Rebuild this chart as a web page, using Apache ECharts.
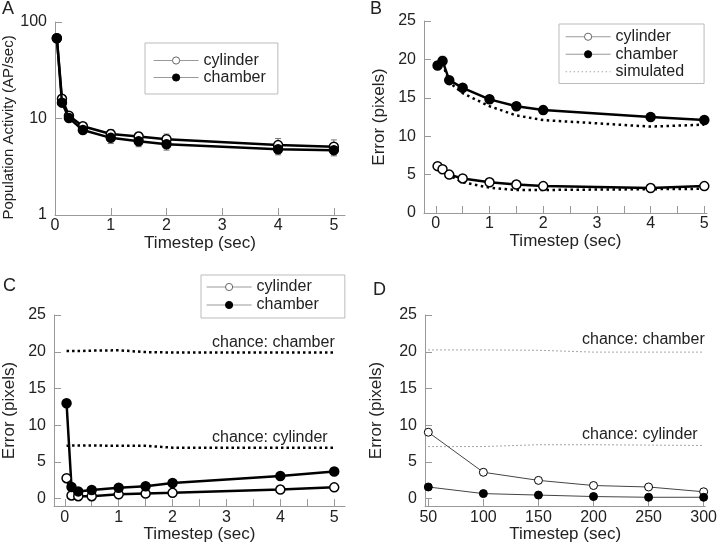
<!DOCTYPE html>
<html><head><meta charset="utf-8">
<script src="https://cdn.jsdelivr.net/npm/echarts@6/dist/echarts.min.js"></script>
<style>html,body{margin:0;padding:0;background:#fff}#c{width:720px;height:544px}</style>
</head><body><div id="c"></div>
<script>
// ---- data ----
const timestepsABC = [0.033, 0.125, 0.25, 0.5, 1, 1.5, 2, 4, 5];
const aCylinder = [68, 16, 10.7, 8.3, 6.9, 6.5, 6.1, 5.3, 5.1];
const aChamber = [68, 14.6, 10.1, 7.6, 6.3, 5.8, 5.4, 4.8, 4.7];
const aCylinderErr = [0, 0, 0, 0, 0.8, 0.7, 0.8, 0.9, 0.9];
const aChamberErr = [0, 0, 0, 0, 0.8, 0.7, 0.7, 0.6, 0.6];

const bCylinder = [6.1, 5.7, 5.0, 4.5, 4.0, 3.7, 3.5, 3.25, 3.5];
const bChamber = [19.2, 19.8, 17.3, 16.3, 14.8, 13.9, 13.4, 12.5, 12.1];
const bChamberErr = [0.5, 0.6, 0.4, 0.4, 0.5, 0.5, 0.5, 0.3, 0.3];
const bSimChamber = [19.2, 19.5, 17.0, 15.6, 13.9, 12.7, 12.1, 11.25, 11.5];
const bSimCylinder = [6.0, 5.6, 4.9, 4.0, 3.3, 3.0, 3.0, 3.1, 3.15];

const cCylinder = [2.8, 0.45, 0.35, 0.35, 0.6, 0.7, 0.8, 1.25, 1.55];
const cChamber = [13.0, 1.6, 1.0, 1.2, 1.5, 1.7, 2.15, 3.1, 3.7];
const cChanceChamber = [20.1, 20.1, 20.1, 20.15, 20.2, 19.95, 19.9, 19.9, 19.9];
const cChanceCylinder = [7.2, 7.25, 7.25, 7.25, 7.2, 7.2, 6.95, 6.95, 6.95];

const timestepsD = [50, 100, 150, 200, 250, 300];
const dCylinder = [9.05, 3.6, 2.5, 1.8, 1.6, 0.95];
const dChamber = [1.6, 0.7, 0.5, 0.3, 0.2, 0.2];
const dChanceChamber = [20.25, 20.25, 20.2, 19.95, 19.95, 19.95];
const dChanceCylinder = [7.1, 7.1, 7.35, 7.35, 7.3, 7.25];

const xLabelsABC = [0, 1, 2, 3, 4, 5];
const xTicksHalf = [0, 0.5, 1, 1.5, 2, 2.5, 3, 3.5, 4, 4.5, 5];
const yLabelsLinear = [0, 5, 10, 15, 20, 25];
const xLabelsD = [50, 100, 150, 200, 250, 300];

// ---- helpers ----
const FONT = 'Liberation Sans, Arial, sans-serif';
const AX = '#999';
const TXT = '#222';
const pair = (xs, ys) => xs.map((x, i) => [x, ys[i]]);

function xAx(gi, min, max, ticks, labels, nameGap) {
  return {
    type: 'value', gridIndex: gi, min: min, max: max,
    axisLine: { onZero: false, lineStyle: { color: AX, width: 1 } },
    axisTick: { inside: true, length: 7, lineStyle: { color: AX }, customValues: ticks },
    axisLabel: { customValues: labels, fontSize: 16, color: TXT, margin: 3, fontFamily: FONT },
    splitLine: { show: false },
    name: 'Timestep (sec)', nameLocation: 'middle', nameGap: nameGap,
    nameTextStyle: { fontSize: 17, color: TXT, fontFamily: FONT }
  };
}
function yAx(gi, min, max, labels, name, nameGap) {
  return {
    type: 'value', gridIndex: gi, min: min, max: max,
    axisLine: { onZero: false, lineStyle: { color: AX, width: 1 } },
    axisTick: { inside: true, length: 7, lineStyle: { color: AX }, customValues: labels },
    axisLabel: { customValues: labels, fontSize: 16, color: TXT, margin: 8, fontFamily: FONT },
    splitLine: { show: false },
    name: name, nameLocation: 'middle', nameGap: nameGap,
    nameTextStyle: { fontSize: 17, color: TXT, fontFamily: FONT }
  };
}
function lineS(name, gi, xs, ys, filled, opts) {
  opts = opts || {};
  return {
    type: 'line', name: name, xAxisIndex: gi, yAxisIndex: gi,
    data: pair(xs, ys), symbol: 'circle', symbolSize: opts.size || 9, showSymbol: true,
    lineStyle: { color: opts.lineColor || '#000', width: opts.width || 2.5 },
    itemStyle: { color: filled ? '#000' : '#fff', borderColor: '#000', borderWidth: opts.bw || 1.5 },
    z: opts.z || 3, animation: false, silent: true
  };
}
function dotS(name, gi, xs, ys, opts) {
  return {
    type: 'line', name: name, xAxisIndex: gi, yAxisIndex: gi,
    data: pair(xs, ys), symbol: 'none',
    lineStyle: { color: opts.color, width: opts.width, type: opts.dash, cap: 'butt' },
    z: 1, animation: false, silent: true
  };
}
function errS(gi, xs, ys, es, color) {
  return {
    type: 'custom', xAxisIndex: gi, yAxisIndex: gi, z: 1, silent: true, animation: false,
    dimensions: ['x', 'y', 'e'], encode: { x: 0, y: 1 },
    data: xs.map((x, i) => [x, ys[i], es[i]]).filter(d => d[2] > 0),
    renderItem: function (params, api) {
      const x = api.value(0), y = api.value(1), e = api.value(2);
      const lo = api.coord([x, y - e]), hi = api.coord([x, y + e]);
      const w = 3, st = { stroke: color, lineWidth: 1 };
      return { type: 'group', children: [
        { type: 'line', shape: { x1: lo[0], y1: lo[1], x2: hi[0], y2: hi[1] }, style: st },
        { type: 'line', shape: { x1: lo[0] - w, y1: lo[1], x2: lo[0] + w, y2: lo[1] }, style: st },
        { type: 'line', shape: { x1: hi[0] - w, y1: hi[1], x2: hi[0] + w, y2: hi[1] }, style: st }
      ] };
    }
  };
}
const legCyl = { name: 'cylinder', itemStyle: { color: '#fff', borderColor: '#666', borderWidth: 1 }, lineStyle: { color: '#999', width: 1.2, type: 'solid' } };
const legCham = { name: 'chamber', itemStyle: { color: '#000', borderColor: '#000', borderWidth: 1 }, lineStyle: { color: '#999', width: 1.2, type: 'solid' } };
const legSim = { name: 'simulated', itemStyle: { opacity: 0 }, lineStyle: { color: '#aaa', width: 1, type: [1.5, 2.5] } };
function legend(left, top, data, padding, lh) {
  return {
    orient: 'vertical', left: left, top: top, data: data,
    itemWidth: 45, itemHeight: 9, itemGap: 0, padding: padding,
    borderColor: '#bbb', borderWidth: 1, selectedMode: false,
    textStyle: { fontSize: 16, lineHeight: lh, color: TXT, fontFamily: FONT }
  };
}
function txt(x, y, s, size) {
  return { type: 'text', left: x, top: y, style: { text: s, fontSize: size, fill: TXT, fontFamily: FONT } };
}

const chart = echarts.init(document.getElementById('c'), null, { renderer: 'canvas' });
chart.setOption({
  animation: false,
  textStyle: { fontFamily: FONT },
  grid: [
    { left: 55, top: 22, width: 290, height: 193 },
    { left: 424, top: 21, width: 283, height: 192 },
    { left: 54, top: 315, width: 291, height: 194 },
    { left: 425, top: 315, width: 286, height: 193 }
  ],
  xAxis: [
    xAx(0, 0, 5.2, xLabelsABC, xLabelsABC, 16),
    xAx(1, -0.22, 5.05, xTicksHalf, xLabelsABC, 17),
    xAx(2, -0.2, 5.2, xTicksHalf, xLabelsABC, 11),
    xAx(3, 47, 301.5, xLabelsD, xLabelsD, 16)
  ],
  yAxis: [
    {
      type: 'log', logBase: 10, gridIndex: 0, min: 1, max: 100,
      axisLine: { onZero: false, lineStyle: { color: AX, width: 1 } },
      axisTick: { inside: true, length: 7, lineStyle: { color: AX } },
      axisLabel: { fontSize: 16, color: TXT, margin: 8, fontFamily: FONT },
      splitLine: { show: false }, minorTick: { show: false },
      name: 'Population Activity (AP/sec)', nameLocation: 'middle', nameGap: 38,
      nameTextStyle: { fontSize: 15, color: TXT, fontFamily: FONT, padding: [0, 18, 0, 0] }
    },
    yAx(1, 0, 25, yLabelsLinear, 'Error (pixels)', 36),
    yAx(2, -1, 25, yLabelsLinear, 'Error (pixels)', 36),
    yAx(3, -1, 25, yLabelsLinear, 'Error (pixels)', 40)
  ],
  legend: [
    legend(145, 43, [legCyl, legCham], [9, 12, 8, 8], 17),
    legend(559, 24, [legCyl, legCham, legSim], [4, 20, 3, 6], 17.5),
    legend(201, 275, [legCyl, legCham], [3, 26, 4, 5], 18)
  ],
  series: [
    errS(0, timestepsABC, aCylinder, aCylinderErr, '#777'),
    errS(0, timestepsABC, aChamber, aChamberErr, '#777'),
    lineS('cylinder', 0, timestepsABC, aCylinder, false),
    lineS('chamber', 0, timestepsABC, aChamber, true, { z: 4 }),

    errS(1, timestepsABC, bChamber, bChamberErr, '#777'),
    dotS('simulated', 1, timestepsABC, bSimChamber, { color: '#000', width: 2.5, dash: [2.5, 3.5] }),
    dotS('simulated', 1, timestepsABC, bSimCylinder, { color: '#000', width: 2.5, dash: [2.5, 3.5] }),
    lineS('cylinder', 1, timestepsABC, bCylinder, false),
    lineS('chamber', 1, timestepsABC, bChamber, true),

    dotS('chance chamber', 2, timestepsABC, cChanceChamber, { color: '#000', width: 2.5, dash: [2.5, 3] }),
    dotS('chance cylinder', 2, timestepsABC, cChanceCylinder, { color: '#000', width: 2.5, dash: [2.5, 3] }),
    lineS('cylinder', 2, timestepsABC, cCylinder, false),
    lineS('chamber', 2, timestepsABC, cChamber, true),

    dotS('chance chamber', 3, timestepsD, dChanceChamber, { color: '#888', width: 1, dash: [1.5, 2.5] }),
    dotS('chance cylinder', 3, timestepsD, dChanceCylinder, { color: '#888', width: 1, dash: [1.5, 2.5] }),
    lineS('cylinder', 3, timestepsD, dCylinder, false, { size: 8, width: 1, lineColor: '#444', bw: 1 }),
    lineS('chamber', 3, timestepsD, dChamber, true, { size: 8, width: 1, lineColor: '#444', bw: 1 })
  ],
  graphic: [
    txt(2, 0, 'A', 18),
    txt(370, 0, 'B', 18),
    txt(3, 277, 'C', 18),
    txt(373, 281, 'D', 18),
    txt(212, 335, 'chance: chamber', 16),
    txt(212, 430, 'chance: cylinder', 16),
    txt(582, 332, 'chance: chamber', 16),
    txt(582, 427, 'chance: cylinder', 16)
  ]
});
</script>
</body></html>
